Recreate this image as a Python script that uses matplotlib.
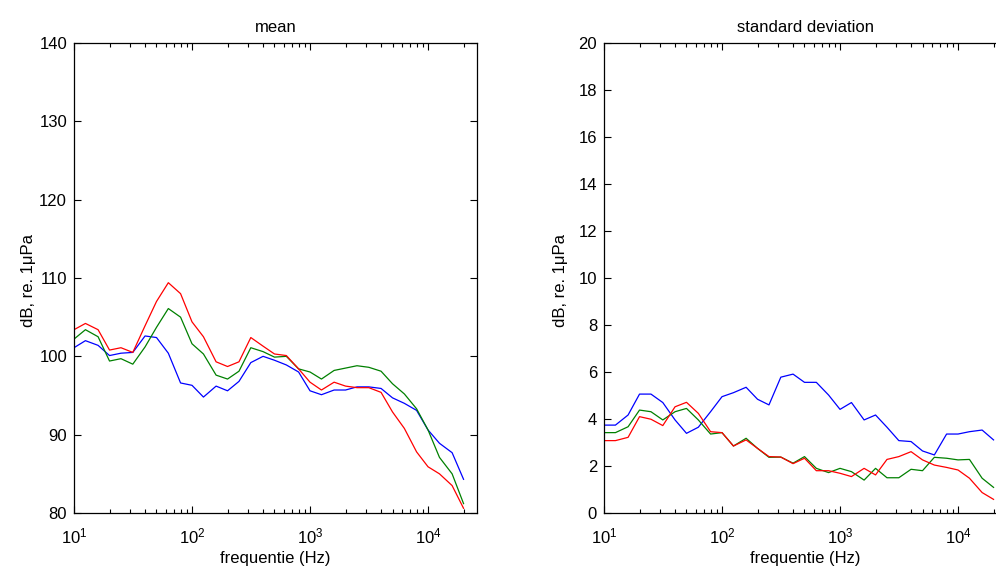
import matplotlib
matplotlib.use("Agg")
import matplotlib.pyplot as plt
import numpy as np

plt.rcParams['font.family'] = ['Liberation Sans', 'DejaVu Sans']

freqs = [10, 12.5, 16, 20, 25, 31.5, 40, 50, 63, 80, 100, 125, 160, 200, 250, 315,
         400, 500, 630, 800, 1000, 1250, 1600, 2000, 2500, 3150, 4000, 5000, 6300,
         8000, 10000, 12500, 16000, 20000]

mean_blue = [101.1, 102.0, 101.4, 100.1, 100.4, 100.5, 102.6, 102.4, 100.4, 96.6,
             96.3, 94.8, 96.2, 95.6, 96.8, 99.2, 100.0, 99.5, 98.9, 98.0,
             95.6, 95.1, 95.7, 95.7, 96.1, 96.1, 95.9, 94.7, 94.0, 93.1,
             90.6, 88.9, 87.7, 84.3]
mean_green = [102.2, 103.4, 102.5, 99.4, 99.7, 99.0, 101.2, 103.7, 106.1, 105.0,
              101.6, 100.3, 97.6, 97.1, 98.1, 101.1, 100.6, 99.9, 100.0, 98.4,
              98.0, 97.1, 98.2, 98.5, 98.8, 98.6, 98.1, 96.5, 95.2, 93.3,
              90.6, 87.1, 85.0, 81.2]
mean_red = [103.4, 104.2, 103.4, 100.8, 101.1, 100.5, 103.9, 107.0, 109.4, 108.0,
            104.4, 102.5, 99.3, 98.7, 99.3, 102.4, 101.3, 100.3, 100.1, 98.4,
            96.7, 95.7, 96.7, 96.2, 96.0, 96.0, 95.4, 92.9, 90.8, 87.8,
            85.9, 85.0, 83.5, 80.6]

std_blue = [3.74, 3.74, 4.17, 5.06, 5.06, 4.70, 3.96, 3.39, 3.65, 4.31,
            4.95, 5.12, 5.35, 4.84, 4.60, 5.78, 5.91, 5.56, 5.56, 5.02,
            4.41, 4.70, 3.96, 4.17, 3.65, 3.08, 3.04, 2.64, 2.47, 3.36,
            3.36, 3.46, 3.53, 3.11]
std_green = [3.42, 3.42, 3.67, 4.38, 4.31, 3.96, 4.31, 4.45, 3.96, 3.36,
             3.42, 2.85, 3.18, 2.75, 2.37, 2.38, 2.12, 2.40, 1.90, 1.72,
             1.90, 1.76, 1.40, 1.90, 1.50, 1.50, 1.86, 1.80, 2.37, 2.33,
             2.26, 2.28, 1.48, 1.09]
std_red = [3.08, 3.08, 3.22, 4.10, 3.99, 3.72, 4.52, 4.71, 4.24, 3.46,
           3.42, 2.85, 3.11, 2.75, 2.40, 2.38, 2.10, 2.33, 1.80, 1.80,
           1.69, 1.55, 1.90, 1.62, 2.28, 2.40, 2.61, 2.26, 2.04, 1.94,
           1.83, 1.48, 0.87, 0.58]

colors = ['#0000ff', '#008000', '#ff0000']
titles = ['mean', 'standard deviation']
ylims = [(80, 140), (0, 20)]
yticks = [np.arange(80, 141, 10), np.arange(0, 21, 2)]
ylabel_x = [-0.094, -0.089]

fig = plt.figure(figsize=(9.96, 5.69), dpi=100)
ax1 = fig.add_axes([74/996, 56/569, 403/996, 470/569])
ax2 = fig.add_axes([604/996, 56/569, 403/996, 470/569])

for ax, series, title, yl, yt, lx in zip(
        [ax1, ax2],
        [[mean_blue, mean_green, mean_red], [std_blue, std_green, std_red]],
        titles, ylims, yticks, ylabel_x):
    for s, c in zip(series, colors):
        ax.plot(freqs, s, color=c, lw=0.9)
    ax.set_xscale('log')
    ax.set_xlim(10, 26000)
    ax.set_ylim(*yl)
    ax.set_yticks(yt)
    ax.set_title(title, fontsize=12, pad=8)
    ax.set_xlabel('frequentie (Hz)', fontsize=12, labelpad=3)
    ax.set_ylabel('dB, re. 1\u03bcPa', fontsize=12)
    ax.yaxis.set_label_coords(lx, 0.495)
    ax.tick_params(which='both', direction='in', top=True, right=True,
                   labelsize=12, width=0.8)
    ax.tick_params(axis='x', which='major', pad=10)
    ax.tick_params(axis='y', which='major', pad=5)
    ax.tick_params(which='major', length=5)
    ax.tick_params(which='minor', length=3)
    for sp in ax.spines.values():
        sp.set_linewidth(0.9)

fig.savefig('out.png', dpi=100)
